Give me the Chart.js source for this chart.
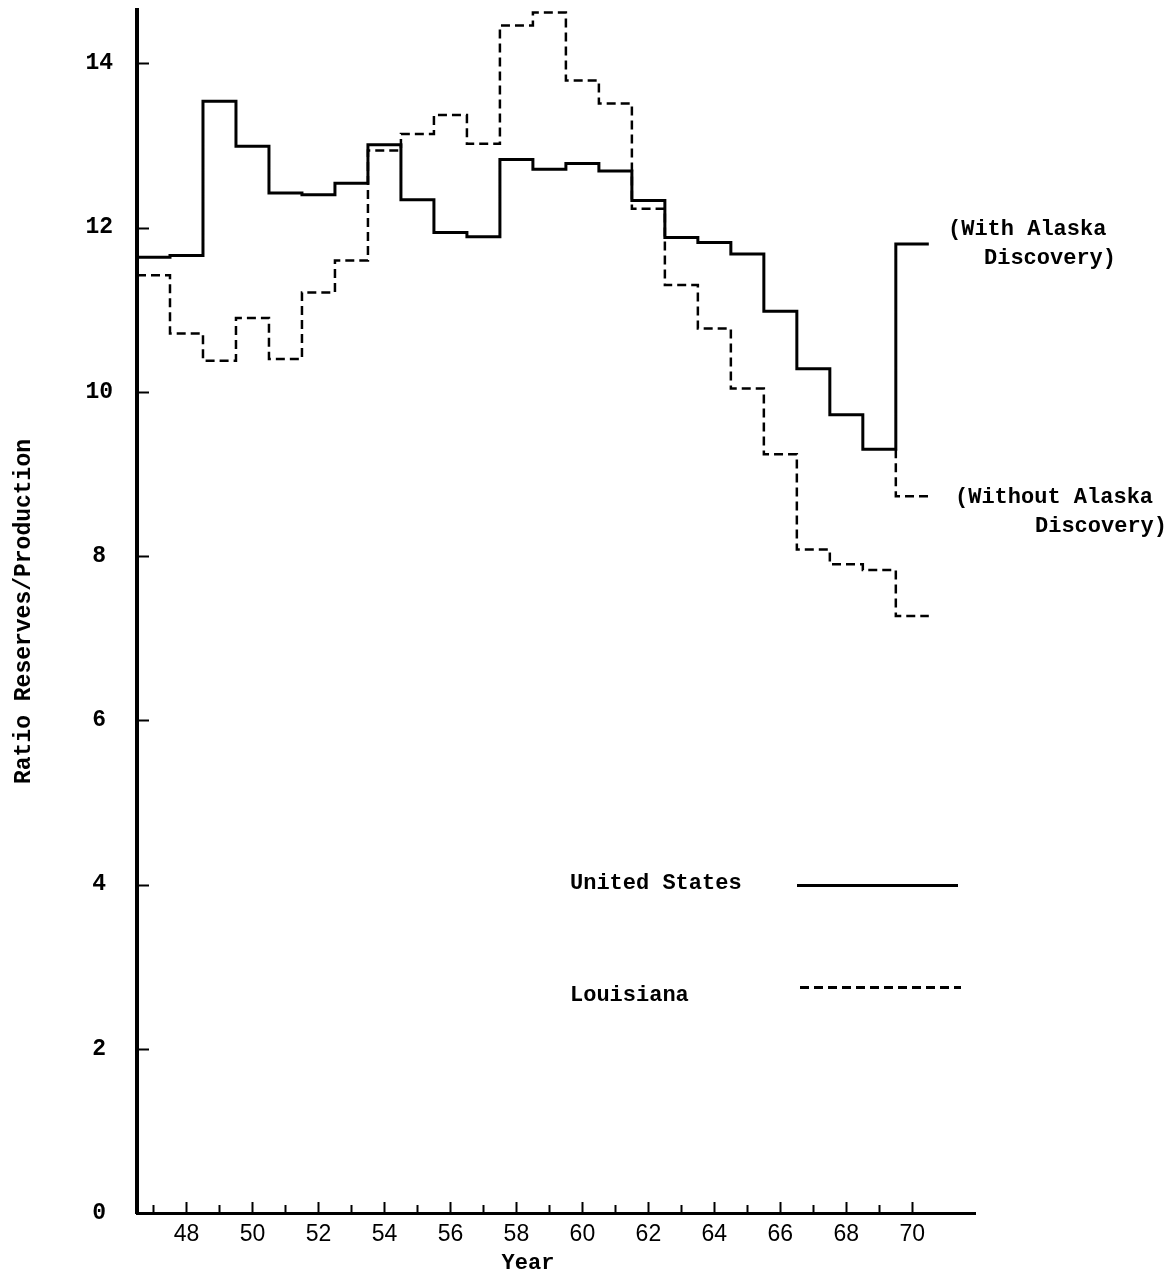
<!DOCTYPE html>
<html>
<head>
<meta charset="utf-8">
<script src="https://cdn.jsdelivr.net/npm/chart.js@4.4.1/dist/chart.umd.min.js"></script>
<style>
html,body{margin:0;padding:0;background:#fff;}
canvas{display:block;}
</style>
</head>
<body>
<canvas id="c" width="1175" height="1276"></canvas>
<script>
// ---- data ----
const years = [1947,1948,1949,1950,1951,1952,1953,1954,1955,1956,1957,1958,1959,1960,1961,1962,1963,1964,1965,1966,1967,1968,1969,1970];
// United States (1970 value = with Alaska discovery)
const usValues = [11.64,11.66,13.54,12.99,12.42,12.40,12.54,13.01,12.34,11.94,11.89,12.83,12.71,12.78,12.69,12.33,11.88,11.82,11.68,10.98,10.28,9.72,9.30,11.80];
// United States 1970 without Alaska discovery
const usWithoutAlaska1970 = 8.73;
// Louisiana
const laValues = [11.42,10.71,10.38,10.90,10.40,11.21,11.60,12.94,13.14,13.37,13.02,14.46,14.62,13.79,13.51,12.23,11.30,10.77,10.04,9.24,8.08,7.90,7.83,7.27];
// ticks
const yTickValues = [0,2,4,6,8,10,12,14];
const yTickLabels = ['0','2','4','6','8','10','12','14'];
const xLabelYears = [1948,1950,1952,1954,1956,1958,1960,1962,1964,1966,1968,1970];
const xTickLabels = ['48','50','52','54','56','58','60','62','64','66','68','70'];

// step data: each year's value spans year-0.5 .. year+0.5
function stepData(vals) {
  const pts = years.map((yr, i) => ({x: yr - 0.5, y: vals[i]}));
  pts.push({x: years[years.length - 1] + 0.5, y: vals[vals.length - 1]});
  return pts;
}
const lastIdx = years.length - 1;
const withoutAlaskaData = [
  {x: years[lastIdx] - 0.5, y: usValues[lastIdx - 1]},
  {x: years[lastIdx] - 0.5, y: usWithoutAlaska1970},
  {x: years[lastIdx] + 0.5, y: usWithoutAlaska1970}
];

const MONO = '"Liberation Mono", "DejaVu Sans Mono", monospace';
const DASH = [9, 5];

const decorPlugin = {
  id: 'decor',
  afterDraw(chart) {
    const ctx = chart.ctx;
    const xs = chart.scales.x, ys = chart.scales.y;
    const area = chart.chartArea;
    ctx.save();
    ctx.strokeStyle = '#000';
    ctx.lineCap = 'butt';
    // inner x tick marks (every year)
    ctx.lineWidth = 2;
    years.forEach(yr => {
      const px = Math.round(xs.getPixelForValue(yr)) + 0.5;
      const len = xLabelYears.includes(yr) ? 11 : 8;
      ctx.beginPath();
      ctx.moveTo(px, area.bottom);
      ctx.lineTo(px, area.bottom - len);
      ctx.stroke();
    });
    // inner y tick marks
    yTickValues.forEach(v => {
      if (v === 0) return;
      const py = Math.round(ys.getPixelForValue(v)) + 0.5;
      ctx.beginPath();
      ctx.moveTo(area.left, py);
      ctx.lineTo(area.left + 12, py);
      ctx.stroke();
    });
    ctx.fillStyle = '#000';
    ctx.font = 'bold 22px ' + MONO;
    ctx.textBaseline = 'middle';
    // x axis title
    ctx.textAlign = 'center';
    ctx.fillText('Year', 528, 1263);
    // annotations
    ctx.textAlign = 'left';
    ctx.fillText('(With Alaska', 948, 229);
    ctx.textAlign = 'right';
    ctx.fillText('Discovery)', 1116, 258);
    ctx.textAlign = 'left';
    ctx.fillText('(Without Alaska', 955, 497);
    ctx.textAlign = 'right';
    ctx.fillText('Discovery)', 1167, 526);
    // legend
    ctx.textAlign = 'left';
    ctx.fillText('United States', 570, 883);
    ctx.fillText('Louisiana', 570, 995);
    ctx.lineWidth = 3;
    ctx.beginPath();
    ctx.moveTo(797, 885.5);
    ctx.lineTo(958, 885.5);
    ctx.stroke();
    ctx.setLineDash(DASH);
    ctx.beginPath();
    ctx.moveTo(800, 987.5);
    ctx.lineTo(961, 987.5);
    ctx.stroke();
    ctx.restore();
  }
};

new Chart(document.getElementById('c'), {
  type: 'line',
  data: {
    datasets: [
      {
        label: 'United States',
        data: stepData(usValues),
        stepped: 'before',
        borderColor: '#000',
        borderWidth: 3,
        pointRadius: 0,
        fill: false
      },
      {
        label: 'United States (Without Alaska Discovery)',
        data: withoutAlaskaData,
        stepped: 'before',
        borderColor: '#000',
        borderWidth: 2.5,
        borderDash: DASH,
        pointRadius: 0,
        fill: false
      },
      {
        label: 'Louisiana',
        data: stepData(laValues),
        stepped: 'before',
        borderColor: '#000',
        borderWidth: 2.5,
        borderDash: DASH,
        pointRadius: 0,
        fill: false
      }
    ]
  },
  options: {
    responsive: false,
    animation: false,
    devicePixelRatio: 1,
    layout: {padding: {top: 10, right: 200, bottom: 0, left: 0}},
    plugins: {legend: {display: false}, tooltip: {enabled: false}},
    elements: {line: {tension: 0, borderCapStyle: 'butt', borderJoinStyle: 'miter'}},
    scales: {
      x: {
        type: 'linear',
        min: 1946.5,
        max: 1971.9,
        grid: {display: false, drawTicks: false},
        border: {display: true, color: '#000', width: 3},
        afterBuildTicks(scale) {
          scale.ticks = xLabelYears.map(v => ({value: v}));
        },
        afterFit(scale) {
          scale.height = 63;
          scale.paddingLeft = 0; scale.paddingRight = 0;
        },
        ticks: {
          autoSkip: false,
          maxRotation: 0,
          padding: 8,
          color: '#000',
          font: {family: '"Liberation Sans", Arial, sans-serif', size: 23},
          callback(value) {
            const i = xLabelYears.indexOf(value);
            return i >= 0 ? xTickLabels[i] : '';
          }
        },
        title: {display: false}
      },
      y: {
        type: 'linear',
        min: 0,
        max: 14.65,
        grid: {display: false, drawTicks: false},
        border: {display: true, color: '#000', width: 4},
        afterBuildTicks(scale) {
          scale.ticks = yTickValues.map(v => ({value: v}));
        },
        afterFit(scale) {
          scale.width = 137;
          scale.paddingTop = 0; scale.paddingBottom = 0;
        },
        ticks: {
          crossAlign: 'center',
          padding: 24,
          color: '#000',
          font: {family: MONO, size: 23, weight: 'bold'},
          callback(value) {
            const i = yTickValues.indexOf(value);
            return i >= 0 ? yTickLabels[i] : '';
          }
        },
        title: {
          display: true,
          text: 'Ratio Reserves/Production',
          color: '#000',
          font: {family: MONO, size: 23, weight: 'bold'},
          padding: {top: 10, bottom: 0}
        }
      }
    }
  },
  plugins: [decorPlugin]
});
</script>
</body>
</html>
